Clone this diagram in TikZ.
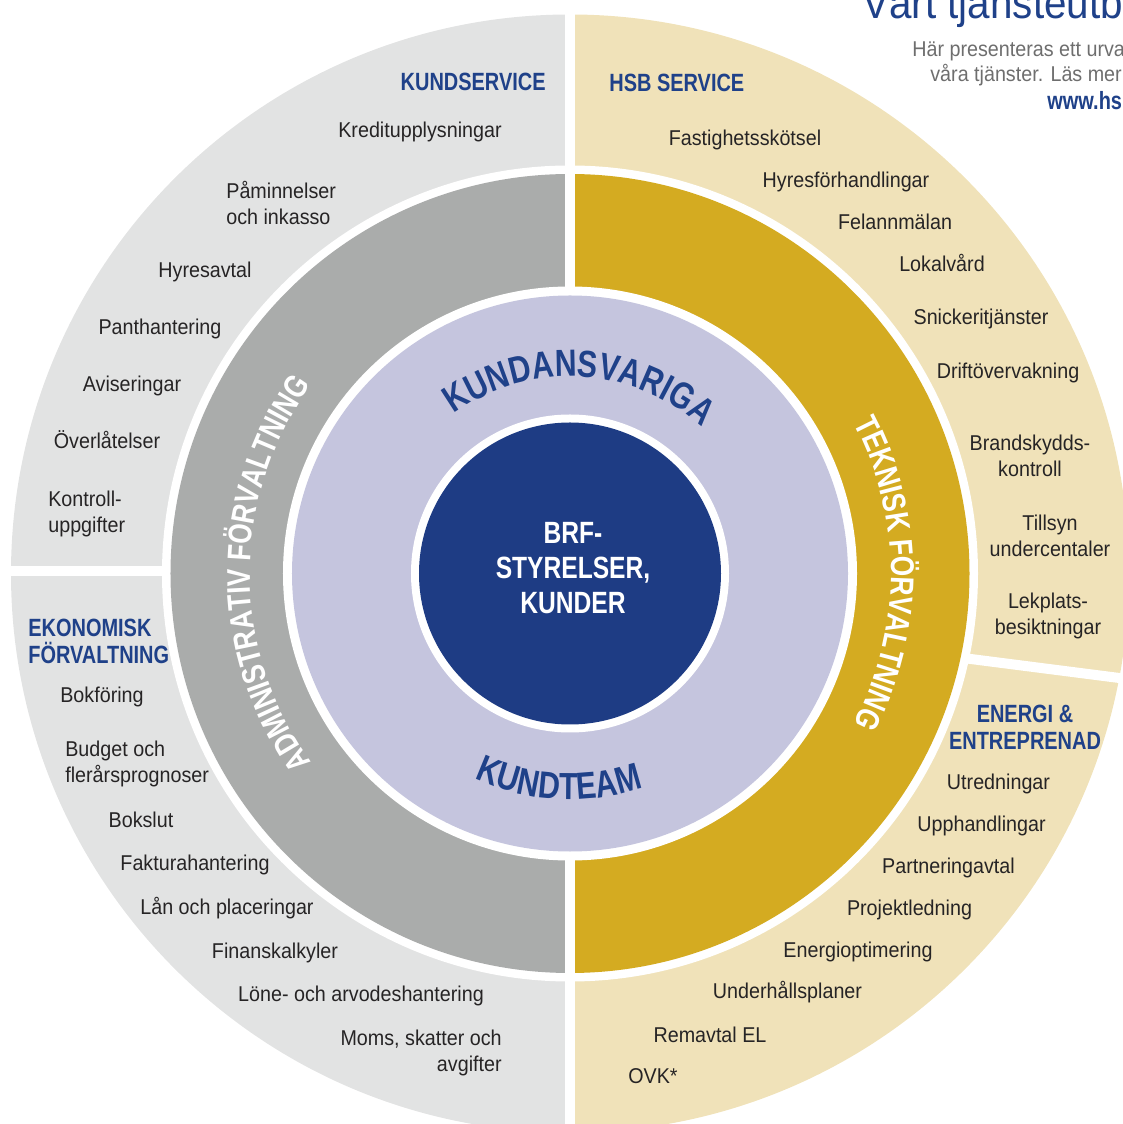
\documentclass[tikz,border=0pt]{standalone}
\usepackage{fontspec}
\setmainfont[FakeStretch=0.92]{Liberation Sans}
\newfontfamily\condfont[FakeStretch=0.8]{Liberation Sans}
\usetikzlibrary{decorations.text}

\definecolor{outgray}{HTML}{E2E3E3}
\definecolor{outtan}{HTML}{F0E2B9}
\definecolor{midgray}{HTML}{AAACAB}
\definecolor{midgold}{HTML}{D4AB21}
\definecolor{ringlav}{HTML}{C5C5DE}
\definecolor{coreblue}{HTML}{1E3C84}
\definecolor{headblue}{HTML}{1F4189}
\definecolor{ink}{HTML}{262425}
\definecolor{leadgray}{HTML}{6E6E6E}

\newcommand{\arcfont}{\condfont\bfseries\fontsize{21.5}{24}\selectfont}
\newcommand{\bandfont}{\condfont\bfseries\fontsize{18.7}{21}\selectfont}

\begin{document}
\begin{tikzpicture}[scale=0.02]
  \tikzstyle{item}=[inner sep=0pt, text=ink, font=\fontsize{12.2}{14.8}\selectfont]
  \tikzstyle{head}=[inner sep=0pt, text=headblue, font=\condfont\bfseries\fontsize{14.2}{15.4}\selectfont]
  \tikzstyle{gap}=[white, line width=5.7pt]

  \useasboundingbox (-570,-550.5) rectangle (552,573.5);

  % rings, outside in
  \fill[outgray] (0,0) -- (90:559) arc[start angle=90, end angle=270, radius=559] -- cycle;
  \fill[outtan] (0,0) -- (-90:559) arc[start angle=-90, end angle=90, radius=559] -- cycle;
  \fill[white] (0,0) circle[radius=408];
  \fill[midgray] (0,0) -- (90:399.5) arc[start angle=90, end angle=270, radius=399.5] -- cycle;
  \fill[midgold] (0,0) -- (-90:399.5) arc[start angle=-90, end angle=90, radius=399.5] -- cycle;
  \fill[white] (0,0) circle[radius=287];
  \fill[ringlav] (0,0) circle[radius=278];
  \fill[white] (0,0) circle[radius=159];
  \fill[coreblue] (0,0) circle[radius=151];

  \coordinate (t1) at (0,283);
  \coordinate (t2) at (0,575);
  \coordinate (b1) at (0,-283);
  \coordinate (b2) at (0,-575);
  \coordinate (w1) at (-405,2.5);
  \coordinate (w2) at (-575,2.5);
  \coordinate (e1) at (393,-84.5);
  \coordinate (e2) at (565,-106.5);
  \draw[gap] (t1) -- (t2);
  \draw[gap] (b1) -- (b2);
  \draw[gap] (w1) -- (w2);
  \draw[gap] (e1) -- (e2);

  % ring labels
  \path[decorate, decoration={text along path, text align=center, text color=headblue,
    text={|\arcfont|KUNDANSVARIGA}}] (157:197) arc[start angle=157, end angle=17, radius=197];
  \path[decorate, decoration={text along path, text align=center, text color=headblue,
    text={|\arcfont|KUNDTEAM}}] (197:226) arc[start angle=197, end angle=337, radius=226];
  \path[decorate, decoration={text along path, text align=center, text color=white,
    text={|\bandfont|ADMINISTRATIV FÖRVALTNING}}] (250:320) arc[start angle=250, end angle=110, radius=320];
  \path[decorate, decoration={text along path, text align=center, text color=white,
    text={|\bandfont|TEKNISK FÖRVALTNING}}] (70:321) arc[start angle=70, end angle=-70, radius=321];

  \node[inner sep=0pt, text=white, align=center, font=\condfont\bfseries\fontsize{17.5}{19.8}\selectfont] (core) at (3,5.5) {BRF-\\STYRELSER,\\KUNDER};

  % kundservice
  \node[head, anchor=base east] (ks) at (-24,482.5) {KUNDSERVICE};
  \node[item, anchor=base] (ks1) at (-150,435.5) {Kreditupplysningar};
  \node[item, anchor=west, align=left] (ks2) at (-344,370.5) {Påminnelser\\och inkasso};
  \node[item, anchor=base] (ks3) at (-365,295.5) {Hyresavtal};
  \node[item, anchor=base] (ks4) at (-410,238.5) {Panthantering};
  \node[item, anchor=base] (ks5) at (-438,181.5) {Aviseringar};
  \node[item, anchor=base] (ks6) at (-463,124.5) {Överlåtelser};
  \node[item, anchor=west, align=left] (ks7) at (-522,59.5) {Kontroll-\\uppgifter};

  % ekonomisk forvaltning
  \node[head, anchor=west, align=left] (ek) at (-542,-67.5) {EKONOMISK\\FÖRVALTNING};
  \node[item, anchor=base] (ek1) at (-468,-129.5) {Bokföring};
  \node[item, anchor=west, align=left] (ek2) at (-505,-190.5) {Budget och\\flerårsprognoser};
  \node[item, anchor=base] (ek3) at (-429,-253.5) {Bokslut};
  \node[item, anchor=base] (ek4) at (-375,-296.5) {Fakturahantering};
  \node[item, anchor=base] (ek5) at (-343,-340.5) {Lån och placeringar};
  \node[item, anchor=base] (ek6) at (-295,-384.5) {Finanskalkyler};
  \node[item, anchor=base] (ek7) at (-209,-427.5) {Löne- och arvodeshantering};
  \node[item, anchor=east, align=right] (ek8) at (-68,-479.5) {Moms, skatter och\\avgifter};

  % hsb service
  \node[head, anchor=base west] (hs) at (39,481.5) {HSB SERVICE};
  \node[item, anchor=base] (hs1) at (175,427.5) {Fastighetsskötsel};
  \node[item, anchor=base] (hs2) at (276,385.5) {Hyresförhandlingar};
  \node[item, anchor=base] (hs3) at (325,343.5) {Felannmälan};
  \node[item, anchor=base] (hs4) at (372,301.5) {Lokalvård};
  \node[item, anchor=base] (hs5) at (411,248.5) {Snickeritjänster};
  \node[item, anchor=base] (hs6) at (438,194.5) {Driftövervakning};
  \node[item, align=center] (hs7) at (460,117.5) {Brandskydds-\\kontroll};
  \node[item, align=center] (hs8) at (480,37.5) {Tillsyn\\undercentaler};
  \node[item, align=center] (hs9) at (478,-42.5) {Lekplats-\\besiktningar};

  % energi och entreprenad
  \node[head, align=center] (en) at (455,-153.5) {ENERGI \&\\ENTREPRENAD};
  \node[item, anchor=base] (en1) at (428.5,-215.5) {Utredningar};
  \node[item, anchor=base] (en2) at (411.5,-257.5) {Upphandlingar};
  \node[item, anchor=base] (en3) at (378.5,-299.5) {Partneringavtal};
  \node[item, anchor=base] (en4) at (339.5,-341.5) {Projektledning};
  \node[item, anchor=base] (en5) at (288,-383.5) {Energioptimering};
  \node[item, anchor=base] (en6) at (217.5,-424.5) {Underhållsplaner};
  \node[item, anchor=base] (en7) at (140,-468.5) {Remavtal EL};
  \node[item, anchor=base] (en8) at (83,-509.5) {OVK*};

  % heading at the top right
  \node[inner sep=0pt, anchor=base west, text=headblue, font=\fontsize{25}{28}\selectfont] (ti) at (292,554.5) {Vårt tjänsteutbud};
  \node[item, anchor=base west, text=leadgray] (ti1) at (342,516.5) {Här presenteras ett urval av};
  \node[item, anchor=base west, text=leadgray] (ti2) at (360,491.5) {våra tjänster. Läs mer på};
  \node[head, anchor=base west] (ti3) at (477,463.5) {www.hsb.se};
\end{tikzpicture}
\end{document}
